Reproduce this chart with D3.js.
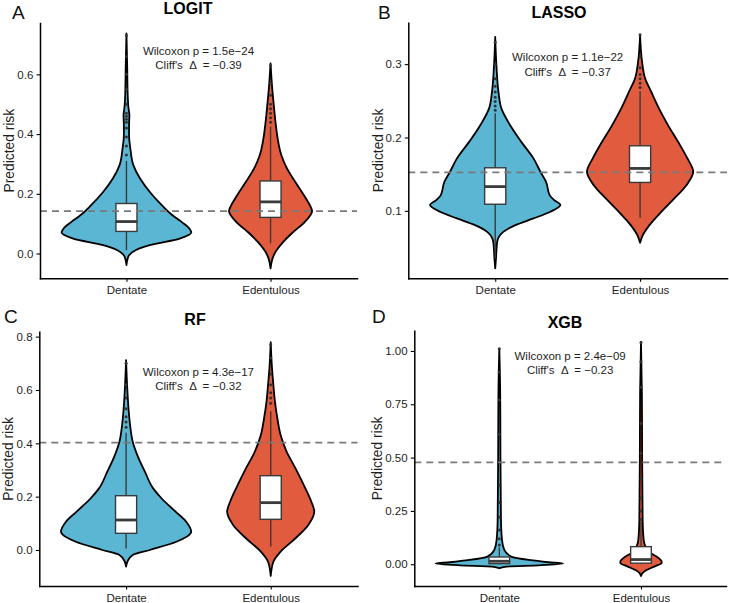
<!DOCTYPE html>
<html>
<head>
<meta charset="utf-8">
<script src="https://cdn.jsdelivr.net/npm/d3@7"></script>
<style>
  body { margin: 0; background: #fff; }
  svg { display: block; font-family: "Liberation Sans", Arial, sans-serif; }
</style>
</head>
<body>
<div id="chart"></div>
<script>
//canvas
let svgWidth = 729;
let svgHeight = 603;

//categories and labels
const groups = ["Dentate", "Edentulous"];
const models = ["LOGIT", "LASSO", "RF", "XGB"];
const tags = ["A", "B", "C", "D"];
const pValues = ["1.5e\u221224", "1.1e\u221222", "4.3e\u221217", "2.4e\u221209"];
const deltas = ["\u22120.39", "\u22120.37", "\u22120.32", "\u22120.23"];
const cutoffs = [0.142, 0.1524, 0.4026, 0.478];
const annotY = [0.665, 0.3042, 0.6524, 0.958];

//y axes
const yDomains = [[-0.083, 0.772], [0.008, 0.3565], [-0.135, 0.8185], [-0.102, 1.095]];
const yTicks = [[0, 0.2, 0.4, 0.6], [0.1, 0.2, 0.3], [0, 0.2, 0.4, 0.6, 0.8], [0, 0.25, 0.5, 0.75, 1]];
const tickFormats = [".1f", ".1f", ".1f", ".2f"];

//violin outlines: [predicted risk, relative density]
const logitDentate = [[0.737,0],[0.62,0.012],[0.541,0.018],[0.49,0.03],[0.463,0.045],[0.43,0.04],[0.396,0.04],[0.352,0.06],[0.296,0.106],[0.251,0.21],[0.206,0.36],[0.162,0.545],[0.128,0.71],[0.106,0.85],[0.084,0.97],[0.07,1.0],[0.05,0.82],[0.028,0.36],[0.011,0.14],[-0.006,0.04],[-0.02,0.015],[-0.039,0]];
const logitEdentulous = [[0.637,0],[0.553,0.026],[0.497,0.05],[0.441,0.076],[0.385,0.11],[0.329,0.167],[0.285,0.253],[0.24,0.38],[0.195,0.515],[0.162,0.606],[0.142,0.641],[0.106,0.53],[0.072,0.35],[0.039,0.197],[0.005,0.076],[-0.017,0.03],[-0.05,0]];
const lassoDentate = [[0.337,0],[0.299,0.018],[0.262,0.05],[0.24,0.093],[0.217,0.227],[0.194,0.4],[0.1715,0.587],[0.153,0.695],[0.1396,0.78],[0.1214,0.835],[0.115,0.9],[0.1078,1.0],[0.0987,0.845],[0.0896,0.587],[0.0805,0.31],[0.0713,0.124],[0.0577,0.03],[0.035,0.012],[0.0214,0]];
const lassoEdentulous = [[0.3397,0],[0.303,0.031],[0.2806,0.077],[0.2624,0.17],[0.2397,0.289],[0.2169,0.428],[0.1941,0.583],[0.1715,0.726],[0.1532,0.815],[0.135,0.711],[0.1169,0.526],[0.0986,0.325],[0.0805,0.144],[0.0668,0.042],[0.0563,0]];
const rfDentate = [[0.712,0],[0.606,0.018],[0.519,0.041],[0.469,0.061],[0.406,0.102],[0.356,0.172],[0.2936,0.289],[0.231,0.416],[0.194,0.543],[0.1436,0.761],[0.106,0.924],[0.0686,1.0],[0.031,0.772],[0.0,0.365],[-0.019,0.102],[-0.044,0.02],[-0.0625,0]];
const rfEdentulous = [[0.779,0],[0.681,0.02],[0.619,0.041],[0.556,0.065],[0.494,0.102],[0.431,0.152],[0.369,0.244],[0.306,0.381],[0.244,0.507],[0.181,0.624],[0.144,0.67],[0.094,0.578],[0.044,0.381],[-0.006,0.152],[-0.044,0.041],[-0.0975,0]];
const xgbDentate = [[1.01,0],[0.8,0.014],[0.5,0.018],[0.208,0.026],[0.114,0.042],[0.067,0.078],[0.036,0.186],[0.02,0.465],[0.0094,0.775],[0.003,1.0],[-0.005,0.62],[-0.011,0.11],[-0.019,0]];
const xgbEdentulous = [[1.043,0],[0.8,0.014],[0.5,0.018],[0.208,0.026],[0.114,0.042],[0.083,0.07],[0.065,0.11],[0.0516,0.155],[0.036,0.243],[0.02,0.31],[0.0075,0.326],[-0.011,0.207],[-0.027,0.088],[-0.04,0.026],[-0.055,0]];

//box stats: [lower whisker, q1, median, q3, upper whisker]
const logitBox = [[0.011, 0.074, 0.107, 0.1675, 0.31], [0.034, 0.121, 0.173, 0.243, 0.425]];
const lassoBox = [[0.035, 0.109, 0.133, 0.1587, 0.233], [0.0905, 0.1387, 0.1578, 0.1887, 0.263]];
const rfBox = [[0.006, 0.0625, 0.1125, 0.2036, 0.44], [0.0125, 0.115, 0.1775, 0.2786, 0.52]];
const xgbBox = [[0.0, 0.003, 0.014, 0.034, 0.08], [0.0, 0.005, 0.022, 0.0825, 0.2]];

//outliers above the whiskers
const logitOut = [[0.33, 0.36, 0.39, 0.42, 0.44, 0.45, 0.46, 0.47, 0.5, 0.55, 0.6, 0.66, 0.73], [0.44, 0.455, 0.47, 0.485, 0.5, 0.53, 0.57, 0.63]];
const lassoOut = [[0.237, 0.243, 0.249, 0.255, 0.262, 0.27, 0.28, 0.3, 0.33], [0.268, 0.274, 0.28, 0.286, 0.295, 0.31, 0.34]];
const rfOut = [[0.46, 0.48, 0.5, 0.53, 0.57, 0.62, 0.7], [0.55, 0.57, 0.59, 0.62, 0.66, 0.72, 0.77]];
const xgbOut = [[0.09, 0.12, 0.16, 0.22, 0.29, 0.37, 0.48, 0.61, 0.77, 0.9, 1.01], [0.21, 0.25, 0.31, 0.4, 0.52, 0.66, 0.83, 0.95, 1.04]];

const violins = [[logitDentate, logitEdentulous], [lassoDentate, lassoEdentulous], [rfDentate, rfEdentulous], [xgbDentate, xgbEdentulous]];
const boxes = [logitBox, lassoBox, rfBox, xgbBox];
const outliers = [logitOut, lassoOut, rfOut, xgbOut];

//panel layout (pixels)
const panels = [
    {x0: 40, x1: 357, y0: 23, y1: 278.3, titleX: 188, titleY: 14, tagX: 12, tagY: 18.5},
    {x0: 408.3, x1: 727, y0: 22.7, y1: 278.3, titleX: 559, titleY: 18.3, tagX: 378, tagY: 18.5},
    {x0: 39.3, x1: 357.5, y0: 331.7, y1: 586, titleX: 195, titleY: 325, tagX: 4, tagY: 323.3},
    {x0: 414.3, x1: 726, y0: 330.7, y1: 586, titleX: 565, titleY: 328.3, tagX: 372, tagY: 323.3}
];

const colors = ["#5ab6d3", "#e15b3e"];
const textColor = "#1e1e1e";

let svg = d3.select("#chart")
    .append("svg")
    .attr("width", svgWidth)
    .attr("height", svgHeight);

svg.append("rect").attr("width", svgWidth).attr("height", svgHeight).attr("fill", "#fff");

panels.forEach((p, i) => {
    let g = svg.append("g");

    //scales
    let x = d3.scalePoint().domain(groups).range([p.x0, p.x1]).padding(0.6);
    let y = d3.scaleLinear().domain(yDomains[i]).range([p.y1, p.y0]);
    let step = x.step();
    let maxD = d3.max(violins[i], v => d3.max(v, d => d[1]));
    let w = d3.scaleLinear().domain([0, maxD]).range([0, step * 0.45]);

    //violins
    violins[i].forEach((v, j) => {
        let cx = x(groups[j]);
        let area = d3.area()
            .curve(d3.curveMonotoneY)
            .y(d => y(d[0]))
            .x0(d => cx - w(d[1]))
            .x1(d => cx + w(d[1]));
        g.append("path")
            .attr("d", area(v))
            .attr("fill", colors[j])
            .attr("stroke", "#000")
            .attr("stroke-width", 1.8)
            .attr("stroke-linejoin", "round");
    });

    //boxplots
    boxes[i].forEach((b, j) => {
        let cx = x(groups[j]);
        let bw = step * 0.146;
        g.selectAll(null)
            .data(outliers[i][j])
            .join("circle")
            .attr("cx", cx)
            .attr("cy", d => y(d))
            .attr("r", 1.5)
            .attr("fill", "#333");
        g.append("line")
            .attr("x1", cx).attr("x2", cx)
            .attr("y1", y(b[0])).attr("y2", y(b[1]))
            .attr("stroke", "#3a3a3a").attr("stroke-width", 1.4);
        g.append("line")
            .attr("x1", cx).attr("x2", cx)
            .attr("y1", y(b[3])).attr("y2", y(b[4]))
            .attr("stroke", "#3a3a3a").attr("stroke-width", 1.4);
        g.append("rect")
            .attr("x", cx - bw / 2)
            .attr("y", y(b[3]))
            .attr("width", bw)
            .attr("height", y(b[1]) - y(b[3]))
            .attr("fill", "#fff")
            .attr("stroke", "#3a3a3a")
            .attr("stroke-width", 1.4);
        g.append("line")
            .attr("x1", cx - bw / 2).attr("x2", cx + bw / 2)
            .attr("y1", y(b[2])).attr("y2", y(b[2]))
            .attr("stroke", "#3a3a3a").attr("stroke-width", 2.8);
    });

    //cutoff line
    g.append("line")
        .attr("x1", p.x0).attr("x2", p.x1)
        .attr("y1", y(cutoffs[i])).attr("y2", y(cutoffs[i]))
        .attr("stroke", "#7a7a7a")
        .attr("stroke-width", 1.7)
        .attr("stroke-dasharray", "7,5");

    //axes
    let xAxis = g.append("g")
        .attr("transform", `translate(0, ${p.y1})`)
        .call(d3.axisBottom(x).tickSize(3.5).tickPadding(4.3).tickSizeOuter(0));
    let yAxis = g.append("g")
        .attr("transform", `translate(${p.x0}, 0)`)
        .call(d3.axisLeft(y).tickValues(yTicks[i]).tickFormat(d3.format(tickFormats[i])).tickSize(3.5).tickPadding(3.2).tickSizeOuter(0));

    [xAxis, yAxis].forEach(a => {
        a.attr("font-family", null).attr("font-size", null);
        a.select(".domain").attr("stroke", "#000").attr("stroke-width", 1.5).attr("stroke-linecap", "square");
        a.selectAll(".tick line").attr("stroke", "#000").attr("stroke-width", 1.1);
        a.selectAll(".tick text").attr("font-size", 11.5).attr("fill", textColor);
    });

    //y axis label
    let maxW = d3.max(yAxis.selectAll(".tick text").nodes(), n => n.getBBox().width);
    let tx = p.x0 - 6.7 - maxW - 2.8;
    g.append("text")
        .attr("transform", `translate(${tx}, ${(p.y0 + p.y1) / 2}) rotate(-90)`)
        .attr("text-anchor", "middle")
        .attr("font-size", 13.8)
        .attr("fill", textColor)
        .text("Predicted risk");

    //statistics text
    let mx = (x(groups[0]) + x(groups[1])) / 2;
    let ay = y(annotY[i]);
    g.append("text")
        .attr("x", mx).attr("y", ay)
        .attr("text-anchor", "middle")
        .attr("font-size", 11.5)
        .attr("fill", textColor)
        .text(`Wilcoxon p = ${pValues[i]}`);
    g.append("text")
        .attr("x", mx).attr("y", ay + 14.5)
        .attr("text-anchor", "middle")
        .attr("font-size", 11.5)
        .attr("fill", textColor)
        .style("white-space", "pre")
        .text(`Cliff's  \u0394  = ${deltas[i]}`);

    //title and panel tag
    g.append("text")
        .attr("x", p.titleX).attr("y", p.titleY)
        .attr("text-anchor", "middle")
        .attr("font-size", 16)
        .attr("font-weight", "bold")
        .attr("fill", "#000")
        .text(models[i]);
    g.append("text")
        .attr("x", p.tagX).attr("y", p.tagY)
        .attr("font-size", 19)
        .attr("fill", "#111")
        .text(tags[i]);
});
</script>
</body>
</html>
